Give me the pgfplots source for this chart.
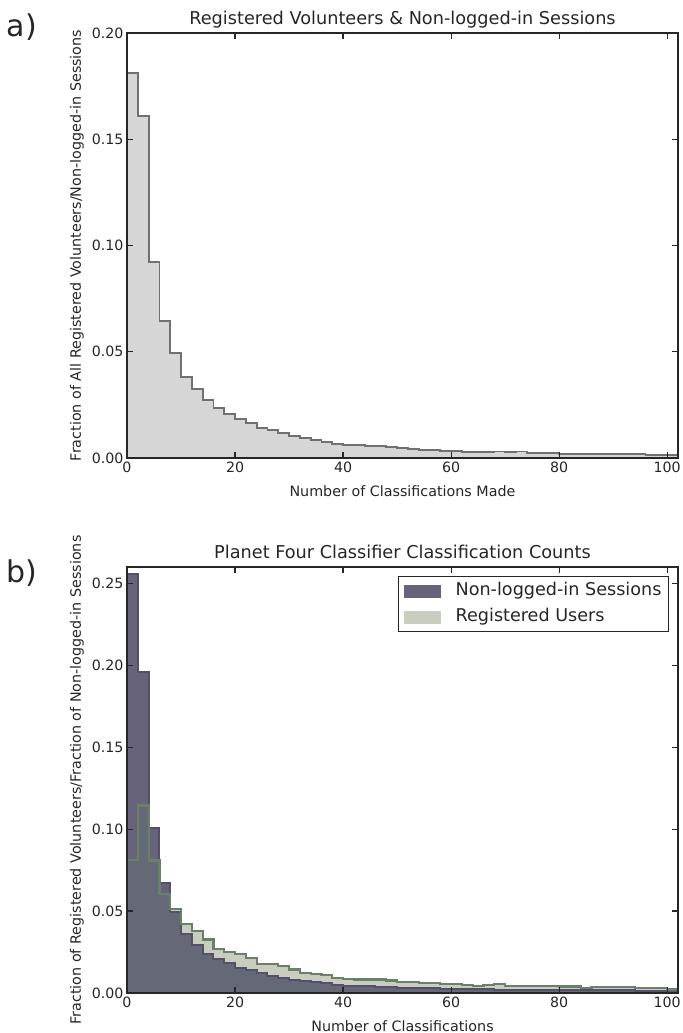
\documentclass[border=0pt]{standalone}
\usepackage{fontspec}
\setmainfont{DejaVu Sans}
\usepackage{pgfplots}
\usepackage{pgfplotstable}
\pgfplotsset{compat=1.18}

\definecolor{txt}{HTML}{262626}
\definecolor{topfill}{HTML}{D6D6D6}
\definecolor{topedge}{HTML}{707070}
\definecolor{pfill}{HTML}{67637A}
\definecolor{pedge}{HTML}{55506A}
\definecolor{gfill}{HTML}{C8CDBF}
\definecolor{gedge}{HTML}{6B8069}
\definecolor{ofill}{HTML}{646877}

% top panel: all registered volunteers & non-logged-in sessions (bin start, fraction)
\pgfplotstableread{
x y
0 0.1813
2 0.1611
4 0.0924
6 0.0645
8 0.0494
10 0.0381
12 0.0326
14 0.0274
16 0.0237
18 0.0208
20 0.0185
22 0.0166
24 0.0143
26 0.0130
28 0.0116
30 0.0104
32 0.0096
34 0.0086
36 0.0075
38 0.0067
40 0.0063
42 0.0061
44 0.0058
46 0.0055
48 0.0052
50 0.0047
52 0.0042
54 0.0039
56 0.0039
58 0.0034
60 0.0034
62 0.0030
64 0.0028
66 0.0028
68 0.0031
70 0.0028
72 0.0031
74 0.0024
76 0.0025
78 0.0024
80 0.0020
82 0.0019
84 0.0018
86 0.0018
88 0.0018
90 0.0020
92 0.0018
94 0.0017
96 0.0016
98 0.0013
100 0.0016
102 0.0016
}\alltable

% bottom panel: non-logged-in sessions
\pgfplotstableread{
x y
0 0.2557
2 0.1957
4 0.1006
6 0.0671
8 0.0494
10 0.0358
12 0.0291
14 0.0240
16 0.0210
18 0.0183
20 0.0155
22 0.0138
24 0.0122
26 0.0102
28 0.0094
30 0.0082
32 0.0073
34 0.0065
36 0.0061
38 0.0051
40 0.0045
42 0.0041
44 0.0041
46 0.0037
48 0.0037
50 0.0033
52 0.0033
54 0.0029
56 0.0029
58 0.0025
60 0.0023
62 0.0023
64 0.0022
66 0.0022
68 0.0021
70 0.0021
72 0.0020
74 0.0020
76 0.0019
78 0.0019
80 0.0018
82 0.0018
84 0.0017
86 0.0017
88 0.0016
90 0.0016
92 0.0016
94 0.0015
96 0.0015
98 0.0015
100 0.0014
102 0.0014
}\nonlogtable

% bottom panel: registered users
\pgfplotstableread{
x y
0 0.0813
2 0.1144
4 0.0809
6 0.0606
8 0.0514
10 0.0419
12 0.0378
14 0.0327
16 0.0271
18 0.0250
20 0.0236
22 0.0216
24 0.0179
26 0.0179
28 0.0163
30 0.0144
32 0.0120
34 0.0114
36 0.0108
38 0.0090
40 0.0085
42 0.0082
44 0.0082
46 0.0082
48 0.0076
50 0.0065
52 0.0065
54 0.0059
56 0.0059
58 0.0053
60 0.0053
62 0.0047
64 0.0043
66 0.0047
68 0.0053
70 0.0043
72 0.0043
74 0.0043
76 0.0043
78 0.0043
80 0.0040
82 0.0040
84 0.0029
86 0.0037
88 0.0037
90 0.0037
92 0.0037
94 0.0029
96 0.0029
98 0.0029
100 0.0022
102 0.0022
}\regtable

% bottom panel: part shared by both histograms (lower of the two bars in each bin)
\pgfplotstableread{
x y
0 0.0813
2 0.1144
4 0.0809
6 0.0606
8 0.0494
10 0.0358
12 0.0291
14 0.0240
16 0.0210
18 0.0183
20 0.0155
22 0.0138
24 0.0122
26 0.0102
28 0.0094
30 0.0082
32 0.0073
34 0.0065
36 0.0061
38 0.0051
40 0.0045
42 0.0041
44 0.0041
46 0.0037
48 0.0037
50 0.0033
52 0.0033
54 0.0029
56 0.0029
58 0.0025
60 0.0023
62 0.0023
64 0.0022
66 0.0022
68 0.0021
70 0.0021
72 0.0020
74 0.0020
76 0.0019
78 0.0019
80 0.0018
82 0.0018
84 0.0017
86 0.0017
88 0.0016
90 0.0016
92 0.0016
94 0.0015
96 0.0015
98 0.0015
100 0.0014
102 0.0014
}\overlaptable

\pgfplotsset{
  myaxis/.style={
    scale only axis, width=551bp,
    xmin=0, xmax=102, ymin=0,
    xtick={0,20,...,100},
    tick align=inside, major tick length=6bp,
    axis line style={line width=1.5bp, color=txt},
    every tick/.style={line width=1.2bp, color=txt},
    tick label style={font=\fontsize{14.2bp}{17bp}\selectfont, color=txt},
    /pgf/number format/assume math mode=true,
    yticklabel style={/pgf/number format/.cd, fixed, fixed zerofill, precision=2},
    scaled y ticks=false,
    label style={font=\fontsize{14.3bp}{17bp}\selectfont, color=txt},
    every axis title/.style={at={(axis description cs:0.5,1.019)}, anchor=base,
      font=\fontsize{17.7bp}{21bp}\selectfont, color=txt},
    xlabel style={anchor=base},
    ylabel style={anchor=base},
    axis on top,
  }
}

\begin{document}
\begin{tikzpicture}
\path[use as bounding box] (0,0) rectangle (683bp,-1033bp);

\node[font=\fontsize{30bp}{36bp}\selectfont, text=txt] at (22bp,-27bp) {a)};
\node[font=\fontsize{30bp}{36bp}\selectfont, text=txt] at (22bp,-573bp) {b)};

% ---------------- top panel ----------------
\begin{axis}[myaxis,
  at={(127bp,-458bp)}, anchor=south west,
  height=425bp, ymax=0.20,
  ytick={0,0.05,0.10,0.15,0.20},
  title={Registered Volunteers \& Non-logged-in Sessions},
  xlabel={Number of Classifications Made},
  xlabel style={at={(axis description cs:0.5,-0.0894)}},
  ylabel={Fraction of All Registered Volunteers/Non-logged-in Sessions},
  ylabel style={at={(axis description cs:-0.0835,0.5)}},
]
\addplot[const plot, fill=topfill, draw=topedge, line width=1.8bp] table[x=x, y=y] {\alltable} \closedcycle;
\end{axis}

% ---------------- bottom panel ----------------
\begin{axis}[myaxis,
  at={(127bp,-993bp)}, anchor=south west,
  height=426bp, ymax=0.26,
  ytick={0,0.05,0.10,0.15,0.20,0.25},
  title={Planet Four Classifier Classification Counts},
  xlabel={Number of Classifications},
  xlabel style={at={(axis description cs:0.5,-0.0892)}},
  ylabel={Fraction of Registered Volunteers/Fraction of Non-logged-in Sessions},
  ylabel style={at={(axis description cs:-0.0835,0.5)}},
  legend style={at={(axis description cs:1,1)}, anchor=north east,
    xshift=-9bp, yshift=-9bp, draw=txt, line width=1.2bp,
    font=\fontsize{17.6bp}{21bp}\selectfont, text=txt,
    inner xsep=5bp, inner ysep=4bp, row sep=5bp,
    nodes={inner sep=2bp, text height=13bp, text depth=4bp}},
  legend cell align=left,
]
\addlegendimage{legend image code/.code={\fill[pfill, draw=none, fill opacity=1] (0bp,-6.5bp) rectangle (37bp,6.5bp); \path[draw=none] (0bp,0bp) -- (50bp,0bp);}}
\addlegendentry{Non-logged-in Sessions}
\addlegendimage{legend image code/.code={\fill[gfill, draw=none, fill opacity=1] (0bp,-6.5bp) rectangle (37bp,6.5bp); \path[draw=none] (0bp,0bp) -- (50bp,0bp);}}
\addlegendentry{Registered Users}

\addplot[const plot, fill=pfill, draw=none, forget plot] table[x=x, y=y] {\nonlogtable} \closedcycle;
\addplot[const plot, fill=gfill, draw=none, forget plot] table[x=x, y=y] {\regtable} \closedcycle;
\addplot[const plot, fill=ofill, draw=none, forget plot] table[x=x, y=y] {\overlaptable} \closedcycle;
% outlines
\addplot[const plot, draw=pedge, line width=2bp, forget plot] table[x=x, y=y] {\nonlogtable};
\addplot[const plot, draw=gedge, line width=2.2bp, forget plot] table[x=x, y=y] {\regtable};
\end{axis}
\end{tikzpicture}
\end{document}
